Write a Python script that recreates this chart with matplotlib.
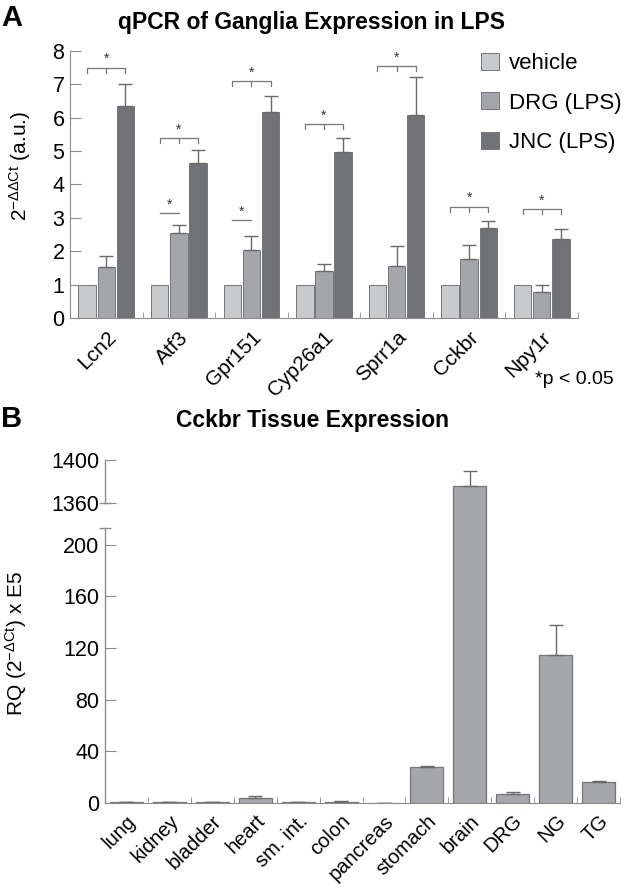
import numpy as np
import matplotlib
matplotlib.use('Agg')
import matplotlib.pyplot as plt
from matplotlib import font_manager
from matplotlib.patches import Patch

# fonts: Helvetica-like body, narrow bold for the titles
names = set(f.name for f in font_manager.fontManager.ttflist)
body = 'Liberation Sans' if 'Liberation Sans' in names else 'DejaVu Sans'
narrow = 'Liberation Sans Narrow' if 'Liberation Sans Narrow' in names else body
plt.rcParams['font.family'] = [body, 'DejaVu Sans']
plt.rcParams['mathtext.fontset'] = 'custom'
plt.rcParams['mathtext.rm'] = body
plt.rcParams['mathtext.it'] = body

# ---- panel A data: qPCR of ganglia expression in LPS
genes = ['Lcn2', 'Atf3', 'Gpr151', 'Cyp26a1', 'Sprr1a', 'Cckbr', 'Npy1r']
groups = ['vehicle', 'DRG (LPS)', 'JNC (LPS)']
vehicle = [1, 1, 1, 1, 1, 1, 1]
drg = [1.54, 2.54, 2.04, 1.41, 1.56, 1.77, 0.77]
drg_err = [0.33, 0.24, 0.42, 0.21, 0.60, 0.42, 0.21]
jnc = [6.36, 4.63, 6.18, 4.96, 6.08, 2.70, 2.37]
jnc_err = [0.65, 0.40, 0.48, 0.43, 1.15, 0.21, 0.30]
# significance marks
jnc_sig = [7.50, 5.39, 7.10, 5.81, 7.54, 3.33, 3.26]
drg_sig_genes = ['Atf3', 'Gpr151']
drg_sig = [3.14, 2.93]

# ---- panel B data: Cckbr tissue expression
tissues = ['lung', 'kidney', 'bladder', 'heart', 'sm. int.', 'colon',
           'pancreas', 'stomach', 'brain', 'DRG', 'NG', 'TG']
rq = [0.6, 0.5, 0.5, 4.1, 0.4, 0.7, 0.0, 27.9, 1376, 7.3, 115, 16.0]
rq_err = [0.4, 0.4, 0.3, 1.2, 0.4, 0.5, 0.0, 1.0, 14, 1.0, 23, 0.7]
low_top, high_bottom, high_top = 213, 1360, 1400

colors = ['#c9cacc', '#a5a6aa', '#717275']
edge = '#75767a'
spine_c = '#8c8c8c'
err_kw = dict(ecolor='#6a6a6a', elinewidth=1, capthick=1)

fig = plt.figure(figsize=(6.33, 8.91), dpi=100)
W, H = 633.0, 891.0

# ================= panel A =================
ax = fig.add_axes([70 / W, 1 - 318 / H, 508 / W, 267 / H])
x = np.arange(len(genes))
step, bw = 0.263, 0.24
ax.bar(x - step, vehicle, bw, color=colors[0], edgecolor=edge, linewidth=0.7)
ax.bar(x, drg, bw, color=colors[1], edgecolor=edge, linewidth=0.7,
       yerr=[np.zeros(len(drg)), drg_err], capsize=5, error_kw=err_kw)
ax.bar(x + step, jnc, bw, color=colors[2], edgecolor=edge, linewidth=0.7,
       yerr=[np.zeros(len(jnc)), jnc_err], capsize=5, error_kw=err_kw)

tick_h = 0.15
for i, yb in enumerate(jnc_sig):
    x0, xm, x1 = i - step, i, i + step
    ax.plot([x0, x0, x1, x1], [yb - tick_h, yb, yb, yb - tick_h], color='#777777', lw=0.9)
    ax.plot([xm, xm], [yb, yb - tick_h], color='#777777', lw=0.9)
    ax.text(xm, yb + 0.05, '*', ha='center', va='bottom', fontsize=10, color='#333333')
for g, yb in zip(drg_sig_genes, drg_sig):
    i = genes.index(g)
    ax.plot([i - step, i], [yb, yb], color='#777777', lw=0.9)
    ax.text(i - step / 2, yb + 0.05, '*', ha='center', va='bottom', fontsize=10, color='#333333')

ax.set_xlim(-0.5, len(genes) - 0.5)
ax.set_ylim(0, 8)
ax.set_yticks(range(0, 9))
ax.set_xticks(x)
ax.set_xticklabels(genes, rotation=45, ha='right', rotation_mode='anchor', fontsize=15)
ax.set_xticks(np.arange(0.5, len(genes)), minor=True)
ax.tick_params(axis='x', which='major', length=0, pad=7)
ax.tick_params(axis='x', which='minor', direction='in', length=4, color=spine_c)
ax.tick_params(axis='y', direction='in', length=8, color=spine_c, labelsize=15.5, pad=4)
for s in ['top', 'right']:
    ax.spines[s].set_visible(False)
for s in ['left', 'bottom']:
    ax.spines[s].set_color(spine_c)
ax.set_ylabel(r'$2^{-\Delta\Delta Ct}$ (a.u.)', fontsize=15)
ax.yaxis.set_label_coords(-0.073, 0.57)

handles = [Patch(facecolor=c, edgecolor=edge, linewidth=0.7) for c in colors]
ax.legend(handles, groups, loc='upper left', bbox_to_anchor=(481 / W, 1 - 53 / H),
          bbox_transform=fig.transFigure, frameon=False, fontsize=16,
          handlelength=0.8, handleheight=0.8, handletextpad=0.45, labelspacing=0.82,
          borderaxespad=0, borderpad=0)

fig.text(1 / W, 1 - 18 / H, 'A', fontsize=21, fontweight='bold', ha='left', va='center')
fig.text(311 / W, 1 - 22 / H, 'qPCR of Ganglia Expression in LPS', family=[narrow, 'DejaVu Sans'],
         fontsize=16.5, fontweight='bold', ha='center', va='center')
fig.text(614 / W, 1 - 379 / H, '*p < 0.05', fontsize=14, ha='right', va='center')

# ================= panel B =================
# broken y axis: piecewise linear scale (pixel-like units)
px_low = 274.8
px_gap = 25.0
px_high = 43.0
src = np.array([-1000.0, 0, low_top, high_bottom, high_top, 5000.0])
dst = np.array([-1000.0 * px_low / low_top, 0, px_low, px_low + px_gap,
                px_low + px_gap + px_high,
                px_low + px_gap + px_high + 3600 * px_high / (high_top - high_bottom)])


def fwd(v):
    return np.interp(v, src, dst)


def inv(v):
    return np.interp(v, dst, src)


bx = fig.add_axes([105 / W, 1 - 803 / H, 515 / W, 343 / H])
bx.set_yscale('function', functions=(fwd, inv))
xb = np.arange(len(tissues))
bx.bar(xb, rq, 0.77, color='#a6a7ab', edgecolor=edge, linewidth=0.9,
       yerr=[np.zeros(len(rq)), rq_err], capsize=5, error_kw=err_kw)
bx.set_xlim(-0.5, len(tissues) - 0.5)
bx.set_ylim(0, high_top)
bx.set_yticks([0, 40, 80, 120, 160, 200, high_bottom, high_top])
bx.yaxis.set_minor_locator(matplotlib.ticker.NullLocator())
bx.set_xticks(xb)
bx.set_xticklabels(tissues, rotation=45, ha='right', rotation_mode='anchor', fontsize=14.5)
bx.set_xticks(np.arange(0.5, len(tissues)), minor=True)
bx.tick_params(axis='x', which='major', length=0, pad=6)
bx.tick_params(axis='x', which='minor', direction='in', length=4, color=spine_c)
bx.tick_params(axis='y', direction='in', length=8, color=spine_c, labelsize=15.5, pad=4)
for s in ['top', 'right', 'left']:
    bx.spines[s].set_visible(False)
bx.spines['bottom'].set_color(spine_c)
yt = bx.get_yaxis_transform()
bx.plot([0, 0], [0, low_top], color=spine_c, lw=1, transform=yt, clip_on=False)
bx.plot([0, 0], [high_bottom, high_top], color=spine_c, lw=1, transform=yt, clip_on=False)
bx.plot([0, 0], [low_top, high_bottom], color=spine_c, lw=0, marker='_', ms=9, mew=1,
        transform=yt, clip_on=False)
bx.set_ylabel(r'RQ ($2^{-\Delta Ct}$) x E5', fontsize=15)
bx.yaxis.set_label_coords(-0.148, 0.464)

fig.text(1 / W, 1 - 419 / H, 'B', fontsize=21, fontweight='bold', ha='left', va='center')
fig.text(313 / W, 1 - 421 / H, 'Cckbr Tissue Expression', family=[narrow, 'DejaVu Sans'],
         fontsize=16.5, fontweight='bold', ha='center', va='center')

fig.savefig('out.png', dpi=100)
